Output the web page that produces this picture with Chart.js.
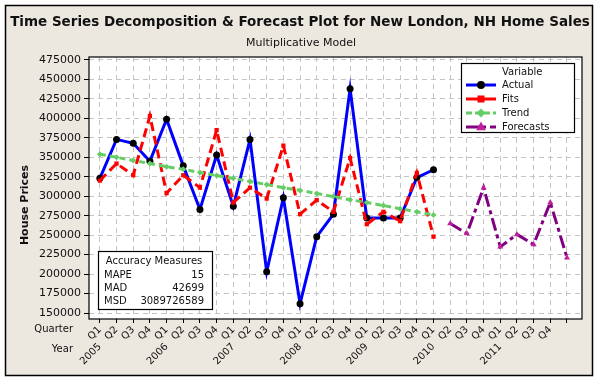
<!DOCTYPE html>
<html>
<head>
<meta charset="utf-8">
<script src="https://cdn.jsdelivr.net/npm/chart.js@4.4.1/dist/chart.umd.min.js"></script>
<style>
  html, body { margin: 0; padding: 0; background: #fff; }
  #wrap { width: 600px; height: 385px; position: relative; }
</style>
</head>
<body>
<div id="wrap"><canvas id="myChart" width="600" height="385"></canvas></div>
<script>
// quarters 2005 Q1 .. 2011 Q4, plus one unlabeled slot for the last forecast
let quarters = ['Q1','Q2','Q3','Q4','Q1','Q2','Q3','Q4','Q1','Q2','Q3','Q4','Q1','Q2','Q3','Q4',
                'Q1','Q2','Q3','Q4','Q1','Q2','Q3','Q4','Q1','Q2','Q3','Q4',''];
let years = ['2005','','','','2006','','','','2007','','','','2008','','','',
             '2009','','','','2010','','','','2011','','','',''];
let yTicks = [150000, 175000, 200000, 225000, 250000, 275000, 300000, 325000, 350000,
              375000, 400000, 425000, 450000, 475000];

// 2005 Q1 .. 2010 Q1
let actual = [323000, 373000, 368000, 345000, 399000, 339000, 283000, 353000, 287000, 373000, 203000,
              298000, 162000, 248000, 277000, 438000, 272000, 272000, 272000, 324000, 334000];
let fits = [320000, 342000, 327000, 403000, 304000, 327000, 311000, 385000, 292000, 311000, 297000,
            365000, 277000, 295000, 280000, 349000, 264000, 280000, 268000, 330000, 248000];
let trend = [354000, 350000, 346000, 342000, 338000, 334500, 330500, 326500, 323000, 319000, 315000,
             311000, 307500, 303500, 299500, 295500, 292000, 288000, 284000, 280000, 276000];
// 2010 Q2 onwards
let forecasts = [265000, 252000, 311000, 235000, 251000, 238000, 292000, 221000];
let forecastStart = 21;

let accuracyNames = ['MAPE', 'MAD', 'MSD'];
let accuracyValues = ['15', '42699', '3089726589'];

function toPoints(values, start) {
    return values.map(function (v, i) { return { x: start + i, y: v }; });
}

const FONT = 'DejaVu Sans';

const decorPlugin = {
    id: 'decor',
    beforeDraw: function (chart) {
        let ctx = chart.ctx;
        let a = chart.chartArea;
        ctx.save();
        ctx.fillStyle = '#ffffff';
        ctx.fillRect(0, 0, chart.width, chart.height);
        ctx.fillStyle = '#ece8e0';
        ctx.fillRect(5, 5, 588, 371);
        ctx.fillStyle = '#ffffff';
        ctx.fillRect(a.left, a.top, a.right - a.left, a.bottom - a.top);
        ctx.restore();
    },
    afterDraw: function (chart) {
        let ctx = chart.ctx;
        let a = chart.chartArea;
        ctx.save();
        // outer frame
        ctx.strokeStyle = '#000';
        ctx.lineWidth = 1.5;
        ctx.strokeRect(5.5, 5.5, 587, 370);
        // plot frame
        ctx.lineWidth = 1.2;
        ctx.strokeRect(a.left, a.top, a.right - a.left, a.bottom - a.top);

        // titles
        ctx.fillStyle = '#111';
        ctx.textAlign = 'center';
        ctx.textBaseline = 'middle';
        ctx.font = 'bold 13.5px ' + FONT;
        ctx.fillText('Time Series Decomposition & Forecast Plot for New London, NH Home Sales', 300, 22);
        ctx.font = '11px ' + FONT;
        ctx.fillText('Multiplicative Model', 301, 43);

        // y axis title
        ctx.save();
        ctx.translate(25, 205);
        ctx.rotate(-Math.PI / 2);
        ctx.font = 'bold 11px ' + FONT;
        ctx.fillText('House Prices', 0, 0);
        ctx.restore();

        // x row captions
        ctx.textAlign = 'right';
        ctx.font = '10px ' + FONT;
        ctx.fillText('Quarter', 73, 329);
        ctx.fillText('Year', 73, 349);

        // legend
        let lx = 461.5, ly = 63.5;
        ctx.fillStyle = '#fff';
        ctx.fillRect(lx, ly, 113, 69);
        ctx.strokeStyle = '#000';
        ctx.lineWidth = 1.2;
        ctx.strokeRect(lx, ly, 113, 69);
        ctx.fillStyle = '#111';
        ctx.textAlign = 'left';
        ctx.font = '10px ' + FONT;
        ctx.fillText('Variable', 502, 72);
        chart.data.datasets.slice().sort(function (p, q) { return p.legendIndex - q.legendIndex; })
            .forEach(function (ds, i) {
                let y = 85 + i * 14;
                ctx.save();
                ctx.strokeStyle = ds.borderColor;
                ctx.lineWidth = 3;
                ctx.setLineDash(ds.legendDash);
                ctx.beginPath();
                ctx.moveTo(466, y);
                ctx.lineTo(496, y);
                ctx.stroke();
                ctx.restore();
                drawMarker(ctx, ds.pointStyle, 481, y, ds.pointRadius + 0.5, ds.pointBackgroundColor);
                ctx.fillStyle = '#111';
                ctx.fillText(ds.label, 502, y);
            });

        // accuracy box
        let bx = 98.5, by = 251.5;
        ctx.fillStyle = '#fff';
        ctx.fillRect(bx, by, 114, 58);
        ctx.strokeRect(bx, by, 114, 58);
        ctx.fillStyle = '#111';
        ctx.textAlign = 'center';
        ctx.fillText('Accuracy Measures', 154, 261);
        for (let i = 0; i < accuracyNames.length; i++) {
            let y = 275 + i * 13;
            ctx.textAlign = 'left';
            ctx.fillText(accuracyNames[i], 104, y);
            ctx.textAlign = 'right';
            ctx.fillText(accuracyValues[i], 204, y);
        }
        ctx.restore();
    }
};

function drawMarker(ctx, style, x, y, r, color) {
    ctx.save();
    ctx.fillStyle = color;
    ctx.beginPath();
    if (style === 'circle') {
        ctx.arc(x, y, r, 0, Math.PI * 2);
    } else if (style === 'rect') {
        ctx.rect(x - r, y - r, 2 * r, 2 * r);
    } else if (style === 'rectRot') {
        ctx.moveTo(x, y - r * 1.3); ctx.lineTo(x + r * 1.3, y);
        ctx.lineTo(x, y + r * 1.3); ctx.lineTo(x - r * 1.3, y);
    } else {
        ctx.moveTo(x, y - r * 1.4); ctx.lineTo(x + r * 1.2, y + r * 0.8);
        ctx.lineTo(x - r * 1.2, y + r * 0.8);
    }
    ctx.closePath();
    ctx.fill();
    ctx.restore();
}

let ctx = document.getElementById('myChart').getContext('2d');

let houseChart = new Chart(ctx, {
    type: 'line',
    data: {
        datasets: [{
            label: 'Actual',
            data: toPoints(actual, 0),
            borderColor: '#0000ff',
            borderWidth: 3,
            pointStyle: 'circle',
            pointRadius: 3.5,
            pointBackgroundColor: '#000',
            pointBorderWidth: 0,
            legendDash: [],
            legendIndex: 0,
            order: 4
        }, {
            label: 'Fits',
            data: toPoints(fits, 0),
            borderColor: '#ff0000',
            borderWidth: 3,
            borderDash: [9, 5],
            pointStyle: 'rect',
            pointRadius: 3,
            pointBackgroundColor: '#ff0000',
            pointBorderWidth: 0,
            legendDash: [],
            legendIndex: 1,
            order: 3
        }, {
            label: 'Trend',
            data: toPoints(trend, 0),
            borderColor: '#66cc66',
            borderWidth: 3,
            borderDash: [6, 4],
            pointStyle: 'rectRot',
            pointRadius: 3,
            pointBackgroundColor: '#66cc66',
            pointBorderWidth: 0,
            legendDash: [6, 3],
            legendIndex: 2,
            order: 2
        }, {
            label: 'Forecasts',
            data: toPoints(forecasts, forecastStart),
            borderColor: '#800080',
            borderWidth: 3,
            borderDash: [13, 4, 4, 4],
            pointStyle: 'triangle',
            pointRadius: 3.5,
            pointBackgroundColor: '#c0209c',
            pointBorderWidth: 0,
            legendDash: [20, 4],
            legendIndex: 3,
            order: 1
        }]
    },
    options: {
        responsive: false,
        animation: false,
        events: [],
        layout: { padding: { left: 0, top: 57, right: 18, bottom: 0 } },
        plugins: { legend: { display: false }, tooltip: { enabled: false } },
        elements: { line: { tension: 0 } },
        scales: {
            x: {
                type: 'linear',
                position: 'bottom',
                weight: 0,
                min: -0.65,
                max: 28.9,
                afterFit: function (scale) { scale.height = 20; },
                border: { display: false, dash: [5, 4] },
                grid: {
                    color: '#c4c4c4',
                    lineWidth: 1,
                    tickLength: 4,
                    tickColor: '#000',
                    tickBorderDash: [],
                    drawTicks: true
                },
                ticks: {
                    stepSize: 1,
                    autoSkip: false,
                    includeBounds: false,
                    minRotation: 45,
                    maxRotation: 45,
                    padding: 1,
                    color: '#111',
                    font: { family: FONT, size: 10 },
                    callback: function (v) { return quarters[v] !== undefined ? quarters[v] : ''; }
                }
            },
            x2: {
                type: 'linear',
                position: 'bottom',
                weight: 1,
                min: -0.65,
                max: 28.9,
                afterFit: function (scale) { scale.height = 46; },
                border: { display: false },
                grid: { display: false, drawTicks: false },
                ticks: {
                    stepSize: 1,
                    autoSkip: false,
                    includeBounds: false,
                    minRotation: 45,
                    maxRotation: 45,
                    padding: 2,
                    color: '#111',
                    font: { family: FONT, size: 10 },
                    callback: function (v) { return years[v] !== undefined ? years[v] : ''; }
                }
            },
            y: {
                min: 142300,
                max: 478850,
                afterFit: function (scale) { scale.width = 89; },
                afterBuildTicks: function (scale) {
                    scale.ticks = yTicks.map(function (v) { return { value: v }; });
                },
                border: { display: false, dash: [5, 4] },
                grid: {
                    color: '#c4c4c4',
                    lineWidth: 1,
                    tickLength: 5,
                    tickColor: '#000',
                    tickBorderDash: []
                },
                ticks: {
                    padding: 3,
                    color: '#111',
                    font: { family: FONT, size: 11 },
                    callback: function (v) { return String(v); }
                }
            }
        }
    },
    plugins: [decorPlugin]
});
</script>
</body>
</html>
